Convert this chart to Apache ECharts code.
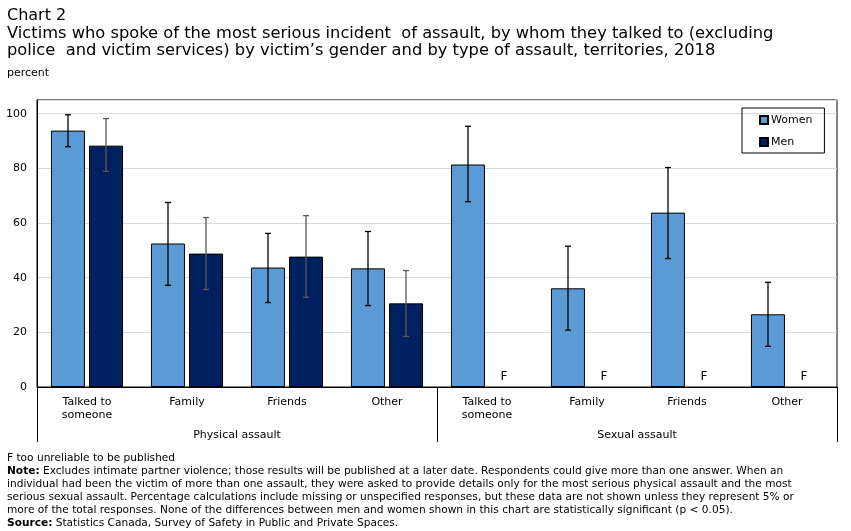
<!DOCTYPE html>
<html>
<head>
<meta charset="utf-8">
<script src="https://cdn.jsdelivr.net/npm/echarts@6/dist/echarts.min.js"></script>
<style>
  html, body { margin: 0; padding: 0; background: #fff; }
  #chart { width: 851px; height: 531px; }
</style>
</head>
<body>
<div id="chart"></div>
<script>
// categories
const categories = ['Talked to\nsomeone', 'Family', 'Friends', 'Other',
    'Talked to\nsomeone', 'Family', 'Friends', 'Other']
const groups = ['Physical assault', 'Sexual assault']

// percent, null = too unreliable (F)
const women = [93.8, 52.5, 43.7, 43.4, 81.4, 36.1, 63.8, 26.6]
const men = [88.3, 48.8, 47.7, 30.6, null, null, null, null]

// 95% confidence intervals
const womenLow = [87.9, 37.2, 30.9, 29.8, 67.8, 20.8, 47.0, 14.9]
const womenHigh = [99.6, 67.5, 56.2, 56.9, 95.4, 51.5, 80.3, 38.3]
const menLow = [78.9, 35.7, 32.8, 18.5, null, null, null, null]
const menHigh = [98.2, 62.0, 62.7, 42.6, null, null, null, null]

const yTicks = [0, 20, 40, 60, 80, 100]

const font = 'DejaVu Sans, Verdana, sans-serif'

function errorBars(low, high, shift, color) {
    let data = []
    for (let i = 0; i < low.length; i++) {
        if (low[i] != null) data.push([i, low[i], high[i]])
    }
    return {
        type: 'custom',
        silent: true,
        z: 5,
        data: data,
        renderItem: function(params, api) {
            let i = api.value(0)
            let lo = api.coord([i, api.value(1)])
            let hi = api.coord([i, api.value(2)])
            let bw = api.size([1, 0])[0]
            let x = lo[0] + bw * shift
            let cap = 3
            return {
                type: 'group',
                children: [
                    { type: 'line', shape: { x1: x, y1: lo[1], x2: x, y2: hi[1] }, style: { stroke: color, lineWidth: 1.3 } },
                    { type: 'line', shape: { x1: x - cap, y1: lo[1], x2: x + cap, y2: lo[1] }, style: { stroke: color, lineWidth: 1.3 } },
                    { type: 'line', shape: { x1: x - cap, y1: hi[1], x2: x + cap, y2: hi[1] }, style: { stroke: color, lineWidth: 1.3 } }
                ]
            }
        }
    }
}

let menData = men.map(function(v) {
    if (v == null) {
        return {
            value: 0,
            itemStyle: { borderWidth: 0, color: 'transparent' },
            label: { show: true, formatter: 'F', position: 'top', distance: 4, color: '#000', fontSize: 12, fontFamily: font, offset: [-2, 0] }
        }
    }
    return v
})

let myChart = echarts.init(document.getElementById('chart'), null, { renderer: 'canvas' })

let option = {
    animation: false,
    textStyle: { fontFamily: font, color: '#000' },
    title: [{
        text: 'Chart 2',
        left: 7, top: 7, padding: 0,
        textStyle: { fontSize: 16, fontWeight: 'normal', lineHeight: 17, color: '#000', fontFamily: font }
    }, {
        text: 'Victims who spoke of the most serious incident  of assault, by whom they talked to (excluding\npolice  and victim services) by victim\u2019s gender and by type of assault, territories, 2018',
        left: 7, top: 25, padding: 0,
        textStyle: { fontSize: 16.3, fontWeight: 'normal', lineHeight: 17, color: '#000', fontFamily: font }
    }, {
        text: 'percent',
        left: 7, top: 68, padding: 0,
        textStyle: { fontSize: 11, fontWeight: 'normal', color: '#000', fontFamily: font }
    }, {
        text: 'F too unreliable to be published\n' +
            '{b|Note:} Excludes intimate partner violence; those results will be published at a later date. Respondents could give more than one answer. When an\n' +
            'individual had been the victim of more than one assault, they were asked to provide details only for the most serious physical assault and the most\n' +
            'serious sexual assault. Percentage calculations include missing or unspecified responses, but these data are not shown unless they represent 5% or\n' +
            'more of the total responses. None of the differences between men and women shown in this chart are statistically significant (p < 0.05).\n' +
            '{b|Source:} Statistics Canada, Survey of Safety in Public and Private Spaces.',
        left: 7, top: 452, padding: 0,
        textStyle: {
            fontSize: 10.6, fontWeight: 'normal', lineHeight: 13, color: '#000', fontFamily: font,
            rich: { b: { fontWeight: 'bold', fontSize: 10.6, lineHeight: 13, fontFamily: font } }
        }
    }],
    legend: {
        orient: 'vertical',
        left: 742, top: 108,
        padding: [5, 12, 4, 17],
        itemGap: 8,
        itemWidth: 8,
        itemHeight: 8,
        icon: 'rect',
        borderColor: '#000',
        borderWidth: 1,
        textStyle: { fontSize: 11, lineHeight: 14, color: '#000', fontFamily: font, padding: [0, 0, 0, -2] },
        data: ['Women', 'Men']
    },
    grid: {
        left: 37, right: 14, top: 100, bottom: 144,
        show: true, borderColor: '#000', borderWidth: 1,
        containLabel: false
    },
    xAxis: [{
        type: 'category',
        data: categories,
        axisLine: { lineStyle: { color: '#000', width: 1 } },
        axisTick: { show: false },
        axisLabel: { interval: 0, margin: 9, fontSize: 11, lineHeight: 13, color: '#000', fontFamily: font }
    }, {
        type: 'category',
        position: 'bottom',
        data: groups,
        axisLine: { show: false },
        axisTick: { show: true, length: 55, lineStyle: { color: '#000', width: 1 } },
        axisLabel: { margin: 43, fontSize: 11, color: '#000', fontFamily: font }
    }],
    yAxis: {
        type: 'value',
        min: 0, max: 105, interval: 20,
        axisLine: { show: true, lineStyle: { color: '#000', width: 1 } },
        axisTick: { show: false },
        axisLabel: {
            margin: 10, fontSize: 11, color: '#000', fontFamily: font, showMaxLabel: false,
            formatter: function(v) { return yTicks.indexOf(v) >= 0 ? String(v) : '' }
        },
        splitLine: { lineStyle: { color: '#d9d9d9', width: 1 } }
    },
    series: [{
        name: 'Women',
        type: 'bar',
        data: women,
        barWidth: '34%',
        barGap: '12%',
        itemStyle: { color: '#5b9bd5', borderColor: '#000', borderWidth: 1 }
    }, {
        name: 'Men',
        type: 'bar',
        data: menData,
        barWidth: '34%',
        barGap: '12%',
        itemStyle: { color: '#002060', borderColor: '#000', borderWidth: 1 }
    },
    errorBars(womenLow, womenHigh, -0.19, '#000'),
    errorBars(menLow, menHigh, 0.19, '#595959')
    ]
}
myChart.setOption(option)
</script>
</body>
</html>
